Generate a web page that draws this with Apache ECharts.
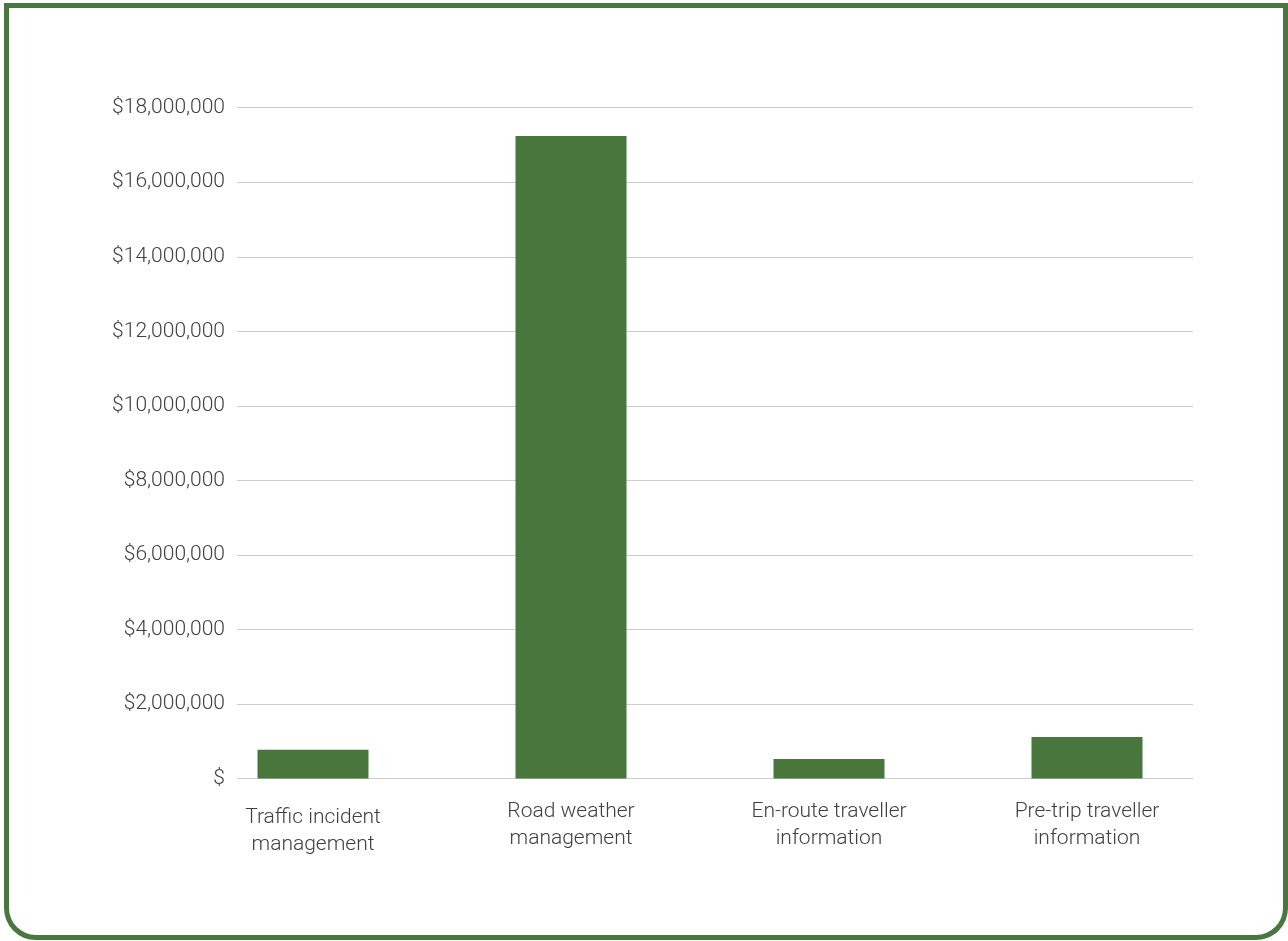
<!DOCTYPE html>
<html>
<head>
<meta charset="utf-8">
<script src="https://cdn.jsdelivr.net/npm/echarts@6/dist/echarts.min.js"></script>
<style>
  html, body { margin: 0; padding: 0; background: #fff; }
  #chart { position: absolute; left: 0; top: 0; width: 1288px; height: 941px; }
  #frame { position: absolute; left: 4px; top: 3px; width: 1284px; height: 937px; box-sizing: border-box;
           border: 5px solid #4a773d; border-radius: 0 0 32px 32px; pointer-events: none; }
</style>
</head>
<body>
<div id="chart"></div>
<div id="frame"></div>
<script>
const categories = [
  'Traffic incident\nmanagement',
  'Road weather\nmanagement',
  'En-route traveller\ninformation',
  'Pre-trip traveller\ninformation'
];
const values = [770000, 17240000, 525000, 1115000];
const yMin = 0, yMax = 18000000, yStep = 2000000;

const chart = echarts.init(document.getElementById('chart'), null, { renderer: 'canvas' });
const fontFamily = 'Roboto, "Noto Sans", sans-serif';
const textColor = '#404040';

const catData = categories.map((c, i) => i === 0
  ? { value: c, textStyle: { padding: [6, 0, 0, 0] } }
  : c);

chart.setOption({
  animation: false,
  grid: [
    { left: 237, right: 95, top: 107.7, bottom: 162.5 },
    { left: 184, right: 72, top: 107.7, bottom: 162.5 }
  ],
  xAxis: [
    { gridIndex: 0, type: 'category', data: categories, show: false },
    {
      gridIndex: 1, type: 'category', data: catData,
      axisLine: { show: false }, axisTick: { show: false },
      axisLabel: { color: textColor, fontFamily, fontWeight: 300, fontSize: 21, lineHeight: 27, margin: 20, interval: 0 }
    }
  ],
  yAxis: [
    {
      gridIndex: 0, type: 'value', min: yMin, max: yMax, interval: yStep,
      axisLine: { show: false }, axisTick: { show: false },
      splitLine: { lineStyle: { color: '#cccccc', width: 1 } },
      axisLabel: {
        color: textColor, fontFamily, fontWeight: 300, fontSize: 21, margin: 12,
        formatter: v => v === 0 ? '$' : '$' + v.toLocaleString('en-US')
      }
    },
    {
      gridIndex: 1, type: 'value', min: yMin, max: yMax, interval: yStep,
      show: false, splitLine: { show: false }
    }
  ],
  series: [{
    type: 'bar',
    xAxisIndex: 1, yAxisIndex: 1,
    data: values,
    barWidth: 111,
    itemStyle: { color: '#48763c' }
  }]
});
</script>
</body>
</html>
